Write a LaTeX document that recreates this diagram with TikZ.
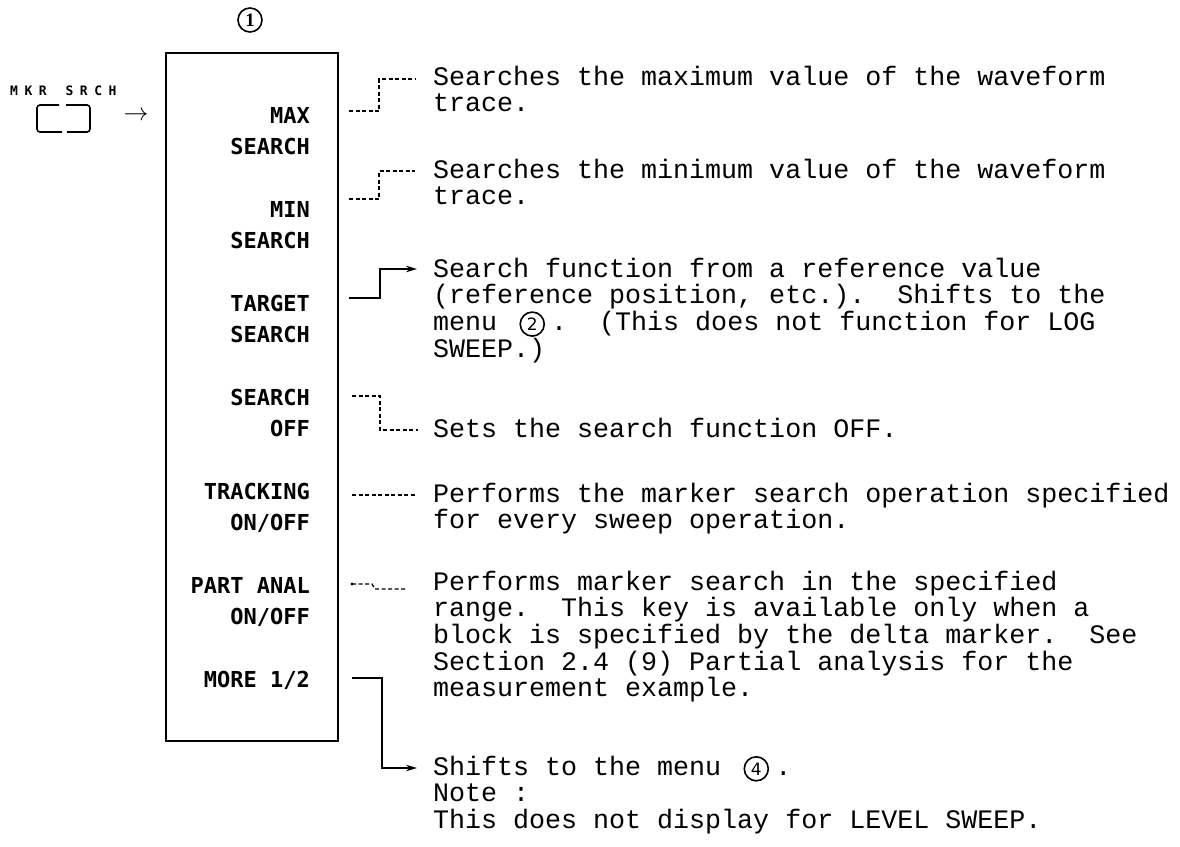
\documentclass[tikz,border=0pt]{standalone}
\usepackage{fontspec}
\setmainfont{Liberation Serif}
\newfontfamily\descfont{Liberation Mono}
\newfontfamily\keyfont{DejaVu Sans Mono}
\newfontfamily\symfont{DejaVu Sans}
\usetikzlibrary{arrows.meta,calc}
\newcommand\circnum[2]{\makebox[38pt]{\tikz[baseline=(#1.base)]\node[draw,circle,line width=1.6pt,inner sep=0pt,minimum size=24pt,font=\symfont\fontsize{17}{17}\selectfont](#1){#2};}}
\tikzset{
  keylbl/.style={anchor=base east, inner sep=0pt, font=\keyfont\bfseries\fontsize{22}{22}\selectfont},
  desc/.style={anchor=base west, inner sep=0pt, font=\descfont\frenchspacing\fontsize{26.67}{26.7}\selectfont},
  dsh/.style={line width=1.3pt, dash pattern=on 4pt off 2.5pt},
  sol/.style={line width=1.5pt},
  arr/.style={sol, -{Stealth[length=11pt,width=6.5pt]}},
}
\begin{document}
\begin{tikzpicture}[x=1pt,y=-1pt]
\useasboundingbox (0,0) rectangle (1180,846);

% menu number
\node (n1) [circle, draw, line width=1.6pt, minimum size=24pt, inner sep=0pt,
  font=\bfseries\fontsize{19}{19}\selectfont] at (250,20) {1};

% hard key
\node (mkr) [anchor=base west, inner sep=0pt, font=\keyfont\bfseries\fontsize{13}{13}\selectfont]
  at (10,95) {M\hspace{6.5pt}K\hspace{6.5pt}R\hspace{19pt}S\hspace{6.5pt}R\hspace{6.5pt}C\hspace{6.5pt}H};
\draw[line width=1.6pt, rounded corners=3pt] (59,105) -- (37,105) -- (37,132) -- (62,132);
\draw[line width=1.6pt, rounded corners=3pt] (66,105) -- (90,105) -- (90,132) -- (67,132);
\node (arrow) at (136,116) {\fontsize{23}{23}\selectfont$\rightarrow$};

% menu box
\node (box) [draw, line width=1.8pt, anchor=north west, inner sep=0pt,
  minimum width=172pt, minimum height=688pt] at (165,52) {};

% key labels
\node (k1a) [keylbl] at (310,123) {MAX};
\node (k1b) [keylbl] at (310,154) {SEARCH};
\node (k2a) [keylbl] at (310,217) {MIN};
\node (k2b) [keylbl] at (310,248) {SEARCH};
\node (k3a) [keylbl] at (310,311) {TARGET};
\node (k3b) [keylbl] at (310,342) {SEARCH};
\node (k4a) [keylbl] at (310,405) {SEARCH};
\node (k4b) [keylbl] at (310,436) {OFF};
\node (k5a) [keylbl] at (310,499) {TRACKING};
\node (k5b) [keylbl] at (310,530) {ON/OFF};
\node (k6a) [keylbl] at (310,593) {PART ANAL};
\node (k6b) [keylbl] at (310,624) {ON/OFF};
\node (k7a) [keylbl] at (310,687) {MORE 1/2};

% descriptions
\node (d1a) [desc] at (433,85) {Searches the maximum value of the waveform};
\node (d1b) [desc] at (433,111.7) {trace.};
\node (d2a) [desc] at (433,178) {Searches the minimum value of the waveform};
\node (d2b) [desc] at (433,204.7) {trace.};
\node (d3a) [desc] at (433,277) {Search function from a reference value};
\node (d3b) [desc] at (433,303.7) {(reference position, etc.).\ \ Shifts to the};
\node (d3c) [desc] at (433,330.4) {menu \circnum{c2}{2}.\ \ (This does not function for LOG};
\node (d3d) [desc] at (433,357.1) {SWEEP.)};
\node (d4a) [desc] at (433,437) {Sets the search function OFF.};
\node (d5a) [desc] at (433,502) {Performs the marker search operation specified};
\node (d5b) [desc] at (433,528.7) {for every sweep operation.};
\node (d6a) [desc] at (433,590) {Performs marker search in the specified};
\node (d6b) [desc] at (433,616.7) {range.\ \ This key is available only when a};
\node (d6c) [desc] at (433,643.4) {block is specified by the delta marker.\ \ See};
\node (d6d) [desc] at (433,670.1) {Section 2.4 (9) Partial analysis for the};
\node (d6e) [desc] at (433,696.8) {measurement example.};
\node (d7a) [desc] at (433,775) {Shifts to the menu \circnum{c4}{4}.};
\node (d7b) [desc] at (433,801.7) {Note :};
\node (d7c) [desc] at (433,828.4) {This does not display for LEVEL SWEEP.};

% connectors
\coordinate (s1) at (349,111);
\coordinate (s2) at (349,199);
\coordinate (s3) at (349,298);
\coordinate (s4) at (352,396);
\coordinate (s5) at (352,495);
\coordinate (s6) at (352,584);
\coordinate (s7) at (352,678);

\draw[dsh] (s1) -- ++(30,0) |- ($(d1a.base west)+(-18,-6)$);
\draw[dsh] (s2) -- ++(30,0) |- ($(d2a.base west)+(-18,-7)$);
\draw[arr] (s3) -- ++(31,0) |- ($(d3a.base west)+(-16,-8)$);
\draw[dsh] (s4) -- ++(28,0) |- ($(d4a.base west)+(-15,-7)$);
\draw[dsh] (s5) -- ($(d5a.base west)+(-18,-7)$);
\fill (s6) circle (1.6pt);
\draw[dsh] (s6) -- ++(20,0) -- ++(3,5) -- ($(d6a.base west)+(-28,-1)$);
\draw[arr] (s7) -- ++(30,0) |- ($(d7a.base west)+(-16,-7)$);
\end{tikzpicture}
\end{document}
